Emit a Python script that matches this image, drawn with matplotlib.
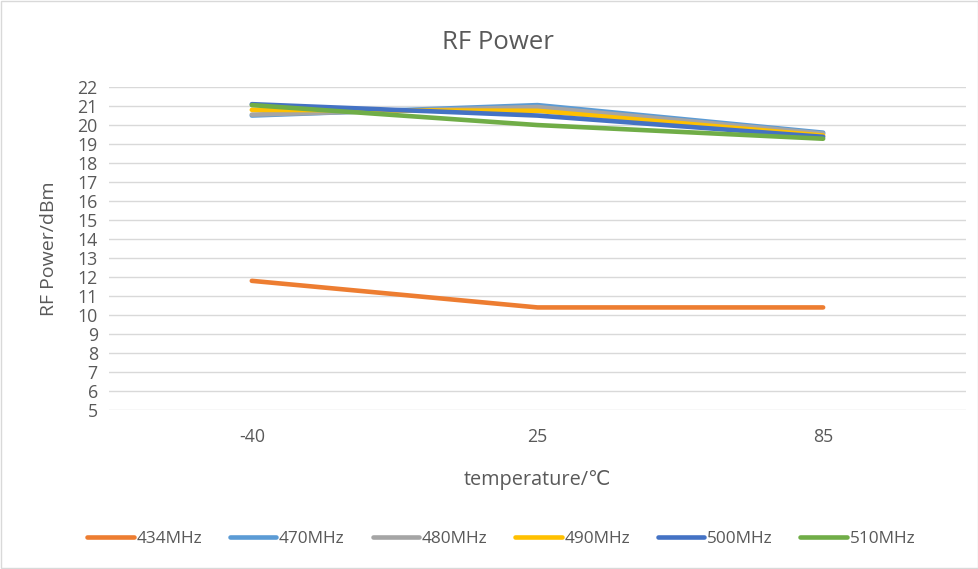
import matplotlib
matplotlib.use("Agg")
import matplotlib.pyplot as plt
from matplotlib.patches import Rectangle

plt.rcParams['font.family'] = ['Open Sans', 'DejaVu Sans']

temps = ['-40', '25', '85']
labels = ['434MHz', '470MHz', '480MHz', '490MHz', '500MHz', '510MHz']
p434 = [11.8, 10.4, 10.4]
p470 = [20.5, 21.05, 19.6]
p480 = [20.55, 20.95, 19.55]
p490 = [20.8, 20.75, 19.45]
p500 = [21.1, 20.5, 19.38]
p510 = [21.05, 20.0, 19.28]
colors = ['#ED7D31', '#5B9BD5', '#A5A5A5', '#FFC000', '#4472C4', '#70AD47']

series = [p434, p470, p480, p490, p500, p510]

fig = plt.figure(figsize=(9.79, 5.69), dpi=100)
ax = fig.add_axes([0.1113, 0.2794, 0.8754, 0.5676])

x = list(range(len(temps)))
for vals, lab, col in zip(series, labels, colors):
    ax.plot(x, vals, color=col, lw=3.3, label=lab, solid_capstyle='round')

ax.set_xlim(-0.5, 2.5)
ax.set_ylim(5, 22)
ax.set_yticks(range(5, 23))
ax.set_xticks(x)
ax.set_xticklabels(temps)
ax.grid(axis='y', color='#D9D9D9', lw=1)
ax.set_axisbelow(True)
for s in ax.spines.values():
    s.set_visible(False)
ax.tick_params(length=0, colors='#595959', labelsize=12.8)
ax.tick_params(axis='x', pad=13)
ax.tick_params(axis='y', pad=8)

# chart title is centred on the whole chart, not on the plot area
fig.text(0.509, 0.925, 'RF Power', fontsize=18.5, color='#595959', ha='center', va='center')
ax.set_ylabel('RF Power/dBm', fontsize=14, color='#595959', labelpad=14)
ax.set_xlabel('temperature/℃', fontsize=14.3, color='#595959', labelpad=17)

fig.legend(loc='center', bbox_to_anchor=(0.512, 0.052), ncol=6, frameon=False,
           fontsize=12.4, handlelength=2.7, handletextpad=0.15, columnspacing=1.62,
           labelcolor='#595959')

fig.patches.append(Rectangle((0.001, 0.001), 0.998, 0.998, transform=fig.transFigure,
                             fill=False, edgecolor='#D9D9D9', lw=1))

fig.savefig('out.png', dpi=100)
